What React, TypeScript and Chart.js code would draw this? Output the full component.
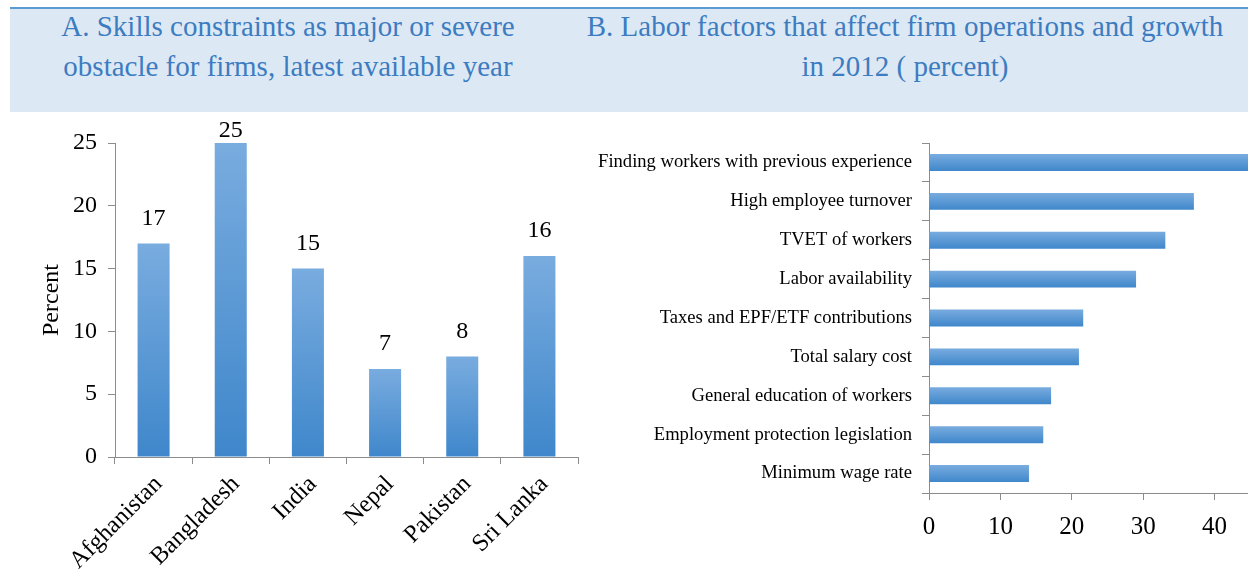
import React, { useEffect, useRef } from "react";
import { Chart, registerables } from "chart.js";

Chart.register(...registerables);

// ---------- data ----------
const countries = ["Afghanistan", "Bangladesh", "India", "Nepal", "Pakistan", "Sri Lanka"];
const skillsValues = [17, 25, 15, 7, 8, 16];

const laborFactors = [
  "Finding workers with previous experience",
  "High employee turnover",
  "TVET of workers",
  "Labor availability",
  "Taxes and EPF/ETF contributions",
  "Total salary cost",
  "General education of workers",
  "Employment protection legislation",
  "Minimum wage rate",
];
const laborValues = [46, 37.1, 33.1, 29, 21.6, 21, 17.1, 16, 14];

const titleA = ["A. Skills constraints as major or severe", "obstacle for firms, latest available year"];
const titleB = ["B. Labor factors that affect firm operations and growth", "in 2012 ( percent)"];
const yTitleA = "Percent";

// ---------- style ----------
const FONT = "'Liberation Serif', 'Times New Roman', serif";
const TOP_C = "#79acdf";
const BOT_C = "#3f87cb";
const MID_C = "#5b9bd5";
const AXIS_C = "#8c8c8c";

function vGrad(chart: any, y0: number, y1: number) {
  const g = chart.ctx.createLinearGradient(0, y0, 0, y1);
  g.addColorStop(0, TOP_C);
  g.addColorStop(1, BOT_C);
  return g;
}

const labelPlugin = {
  id: "valueLabels",
  afterDatasetsDraw(chart: any) {
    const ctx = chart.ctx;
    const meta = chart.getDatasetMeta(0);
    ctx.save();
    ctx.font = `24px ${FONT}`;
    ctx.fillStyle = "#000";
    ctx.textAlign = "center";
    ctx.textBaseline = "middle";
    meta.data.forEach((el: any, i: number) => {
      const y = Math.max(el.y - 25, 19);
      ctx.fillText(String(skillsValues[i]), el.x, y);
    });
    ctx.restore();
  },
};

function LeftChart() {
  const ref = useRef<HTMLCanvasElement>(null);
  useEffect(() => {
    const chart = new Chart(ref.current!, {
      type: "bar",
      data: {
        labels: countries,
        datasets: [
          {
            data: skillsValues,
            barPercentage: 0.415,
            categoryPercentage: 1,
            backgroundColor: (c: any) => {
              const ch = c.chart;
              const ys = ch.scales && ch.scales.y;
              if (!ys || !ch.chartArea) return MID_C;
              const t = ys.getPixelForValue(c.raw);
              const b = ys.getPixelForValue(0);
              if (!isFinite(t) || !isFinite(b) || b - t < 1) return MID_C;
              return vGrad(ch, t, b);
            },
          },
        ],
      },
      options: {
        responsive: false,
        animation: false,
        layout: { padding: { top: 31, right: 12, left: 0, bottom: 0 } },
        plugins: { legend: { display: false }, tooltip: { enabled: false }, title: { display: false } },
        scales: {
          x: {
            type: "category",
            grid: { display: true, drawOnChartArea: false, offset: true, tickLength: 7, color: AXIS_C },
            border: { display: true, color: AXIS_C, width: 1 },
            ticks: { color: "#000", font: { family: FONT, size: 24.5 }, minRotation: 45, maxRotation: 45, padding: 6, labelOffset: 5 },
            afterFit: (s: any) => {
              s.height = 112;
            },
          },
          y: {
            min: 0,
            max: 25,
            ticks: { stepSize: 5, color: "#000", font: { family: FONT, size: 24 }, padding: 11 },
            grid: { display: true, drawOnChartArea: false, tickLength: 7, color: AXIS_C },
            border: { display: true, color: AXIS_C, width: 1 },
            title: { display: true, text: yTitleA, color: "#000", font: { family: FONT, size: 24 }, padding: { top: 37, bottom: 0 } },
            afterFit: (s: any) => {
              s.width = 115;
            },
          },
        },
      },
      plugins: [labelPlugin],
    });
    return () => chart.destroy();
  }, []);
  return <canvas ref={ref} width={590} height={457} style={{ position: "absolute", left: 0, top: 112, width: 590, height: 457 }} />;
}

const BAR_PCT_R = 0.435;

function RightChart() {
  const ref = useRef<HTMLCanvasElement>(null);
  useEffect(() => {
    const chart = new Chart(ref.current!, {
      type: "bar",
      data: {
        labels: laborFactors,
        datasets: [
          {
            data: laborValues,
            barPercentage: BAR_PCT_R,
            categoryPercentage: 1,
            backgroundColor: (c: any) => {
              const ch = c.chart;
              const ys = ch.scales && ch.scales.y;
              if (!ys || !ch.chartArea) return MID_C;
              const center = ys.getPixelForValue(c.dataIndex);
              const half = (ys.height / laborFactors.length) * BAR_PCT_R / 2;
              if (!isFinite(center) || half < 1) return MID_C;
              return vGrad(ch, center - half, center + half);
            },
          },
        ],
      },
      options: {
        indexAxis: "y",
        responsive: false,
        animation: false,
        layout: { padding: { top: 31, right: 40, left: 0, bottom: 0 } },
        plugins: { legend: { display: false }, tooltip: { enabled: false }, title: { display: false } },
        scales: {
          y: {
            type: "category",
            grid: { display: true, drawOnChartArea: false, offset: true, tickLength: 7, color: AXIS_C },
            border: { display: true, color: AXIS_C, width: 1 },
            ticks: { color: "#000", font: { family: FONT, size: 18.6 }, padding: 10, autoSkip: false },
            afterFit: (s: any) => {
              s.width = 339;
            },
          },
          x: {
            min: 0,
            max: 50,
            ticks: { stepSize: 10, color: "#000", font: { family: FONT, size: 25 }, padding: 12 },
            grid: { display: true, drawOnChartArea: false, tickLength: 7, color: AXIS_C },
            border: { display: true, color: AXIS_C, width: 1 },
            afterFit: (s: any) => {
              s.height = 76;
            },
          },
        },
      },
    });
    return () => chart.destroy();
  }, []);
  return <canvas ref={ref} width={736} height={457} style={{ position: "absolute", left: 590, top: 112, width: 736, height: 457 }} />;
}

const titleStyle: React.CSSProperties = {
  position: "absolute",
  top: 6,
  fontFamily: FONT,
  fontSize: 29,
  lineHeight: "40px",
  color: "#3c7cc0",
  textAlign: "center",
  whiteSpace: "nowrap",
};

export default function App() {
  return (
    <div style={{ position: "fixed", left: 0, top: 0, width: 1248, height: 569, overflow: "hidden", background: "#fff" }}>
      <div style={{ position: "absolute", left: 10, top: 7, width: 1238, height: 2, background: "#5b9bd5" }} />
      <div style={{ position: "absolute", left: 10, top: 9, width: 1238, height: 103, background: "#dde8f5" }} />
      <div style={{ ...titleStyle, left: 0, width: 576 }}>
        {titleA.map((t) => (
          <div key={t}>{t}</div>
        ))}
      </div>
      <div style={{ ...titleStyle, left: 562, width: 686 }}>
        {titleB.map((t) => (
          <div key={t}>{t}</div>
        ))}
      </div>
      <LeftChart />
      <RightChart />
    </div>
  );
}
